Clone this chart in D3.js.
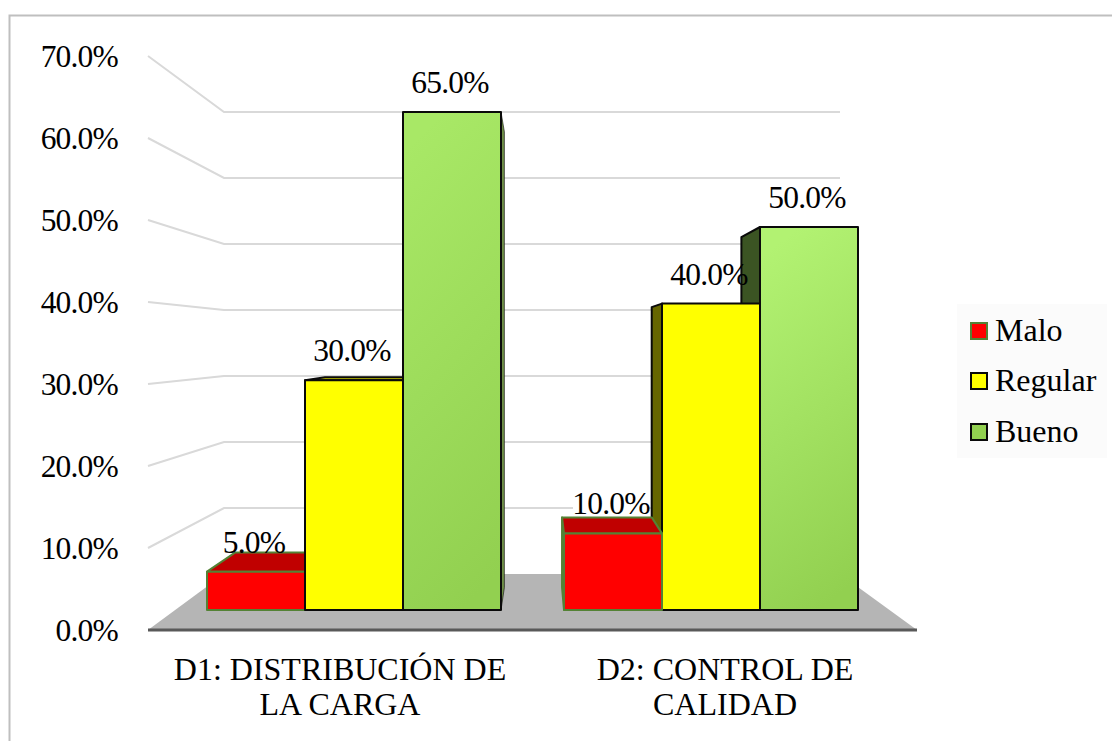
<!DOCTYPE html>
<html><head><meta charset="utf-8">
<script src="https://cdnjs.cloudflare.com/ajax/libs/d3/7.8.5/d3.min.js"></script>
<style>html,body{margin:0;padding:0;background:#fff}svg{display:block}text{font-family:"Liberation Serif","Times New Roman",serif;fill:#000}</style>
</head><body><svg id="c" width="1112" height="741"></svg>
<script>
const categories = [["D1: DISTRIBUCIÓN DE","LA CARGA"],["D2: CONTROL DE","CALIDAD"]];
const seriesNames = ["Malo","Regular","Bueno"];
const malo = [5,10];
const regular = [30,40];
const bueno = [65,50];
const axisTicks = [0,10,20,30,40,50,60,70];
const seriesValues = [malo,regular,bueno];

const svg = d3.select("#c");
const W=1112,H=741;
const defs = svg.append("defs");
[["gGreen0","#a8e866"],["gGreen1","#b2f272"]].forEach(([id,top])=>{
 const grad = defs.append("linearGradient").attr("id",id).attr("x1","0.6").attr("y1","1").attr("x2","0.4").attr("y2","0");
 grad.append("stop").attr("offset","0").attr("stop-color","#92d050");
 grad.append("stop").attr("offset","1").attr("stop-color",top);
});

// chart border
svg.append("path").attr("d",`M9.5,${H} V15.5 H${W}`).attr("fill","none").attr("stroke","#bfbfbf").attr("stroke-width",2);

const front = d3.scaleLinear().domain([0,70]).range([630,56]);
const back = d3.scaleLinear().domain([0,70]).range([574,112]);
const barY = d3.scaleLinear().domain([0,70]).range([610,73.8]);
const groupX = [207,564];
const xs = i=>d3.scaleBand().domain(seriesNames).range([groupX[i],groupX[i]+294]);

// floor
svg.append("polygon").attr("points",[[148,front(0)],[224,back(0)],[840,back(0)],[917,front(0)]].join(" ")).attr("fill","#b5b5b5");

// gridlines
svg.append("g").selectAll("polyline").data(axisTicks.filter(d=>d>0)).join("polyline")
 .attr("points",d=>[[148,front(d)],[224,back(d)],[840,back(d)]].join(" "))
 .attr("fill","none").attr("stroke","#d9d9d9").attr("stroke-width",2);

// axis baseline
svg.append("line").attr("x1",148).attr("x2",917).attr("y1",630).attr("y2",630).attr("stroke","#595959").attr("stroke-width",3);

// y axis labels
const ax = svg.append("g").attr("transform","translate(118,0)")
 .call(d3.axisLeft(front).tickValues(axisTicks).tickSize(0).tickPadding(0).tickFormat(d=>d.toFixed(1)+"%"));
ax.select(".domain").remove();
ax.selectAll("text").style("font-family",'"Liberation Serif"').style("font-size","31.5px").style("letter-spacing","-0.8px").style("fill","#000").attr("x",0).attr("dy","0.32em");

// cubes
const VP=[541,345], T=0.085;
const toBack=([x,y])=>[x+(VP[0]-x)*T,y+(VP[1]-y)*T];
const style=[
 {front:()=>"#ff0000",top:"#c00000",side:"#990000",stroke:"#548235"},
 {front:()=>"#ffff00",top:"#cccc00",side:"#666600",stroke:"#0a0a0a"},
 {front:i=>`url(#gGreen${i})`,top:"#75a640",side:"#3b5423",stroke:"#0a0a0a"}];
function cube(g,x1,x2,yTop,yBot,s,i){
 const a=[x1,yTop],b=[x2,yTop],c=[x2,yBot],d=[x1,yBot];
 const poly=(pts,fill,sw=2)=>g.append("polygon").attr("points",pts.join(" ")).attr("fill",fill).attr("stroke",s.stroke).attr("stroke-width",sw).attr("stroke-linejoin","round");
 if(x1>VP[0]) poly([a,toBack(a),toBack(d),d],s.side);
 if(x2<VP[0]) poly([b,toBack(b),toBack(c),c],"#6f8f48",(VP[0]-x2)*T<5?0.6:2);
 if(yTop>VP[1]) poly([a,toBack(a),toBack(b),b],s.top);
 poly([a,b,c,d],s.front(i));
}
const bars=svg.append("g");
categories.forEach((cat,i)=>{
 const sx=xs(i);
 const order=i===0?[0,1,2]:[2,1,0];
 order.forEach(k=>{
  const n=seriesNames[k];
  cube(bars.append("g"),sx(n),sx(n)+sx.bandwidth(),barY(seriesValues[k][i]),barY(0),style[k],i);
 });
});

// data labels
categories.forEach((cat,i)=>{
 const sx=xs(i);
 seriesNames.forEach((n,k)=>{
  const v=seriesValues[k][i];
  const cx=sx(n)+sx.bandwidth()/2-2, cy=barY(v)-29;
  if(i===1&&k===0) svg.append("rect").attr("x",cx-38).attr("y",cy-2).attr("width",75).attr("height",10).attr("fill","#fff");
  svg.append("text").attr("x",cx).attr("y",cy).attr("dy","0.32em")
   .attr("text-anchor","middle").style("font-size","31.5px").style("letter-spacing","-0.8px").text(v.toFixed(1)+"%");
 });
});

// category labels
const catX=[340,725];
categories.forEach((lines,i)=>{
 lines.forEach((t,j)=>{
  svg.append("text").attr("x",catX[i]).attr("y",670+j*35).attr("dy","0.32em").attr("text-anchor","middle").style("font-size","32px").text(t);
 });
});

// legend
svg.append("rect").attr("x",957).attr("y",304).attr("width",150).attr("height",154).attr("fill","#fbfbfb");
const legY=[331,381,432];
const legFill=["#ff0000","#ffff00","#92d050"];
seriesNames.forEach((n,k)=>{
 svg.append("rect").attr("x",971).attr("y",legY[k]-8).attr("width",16).attr("height",16).attr("fill",legFill[k]).attr("stroke",style[k].stroke).attr("stroke-width",2);
 svg.append("text").attr("x",995).attr("y",legY[k]).attr("dy","0.32em").style("font-size","32px").text(n);
});
</script></body></html>
